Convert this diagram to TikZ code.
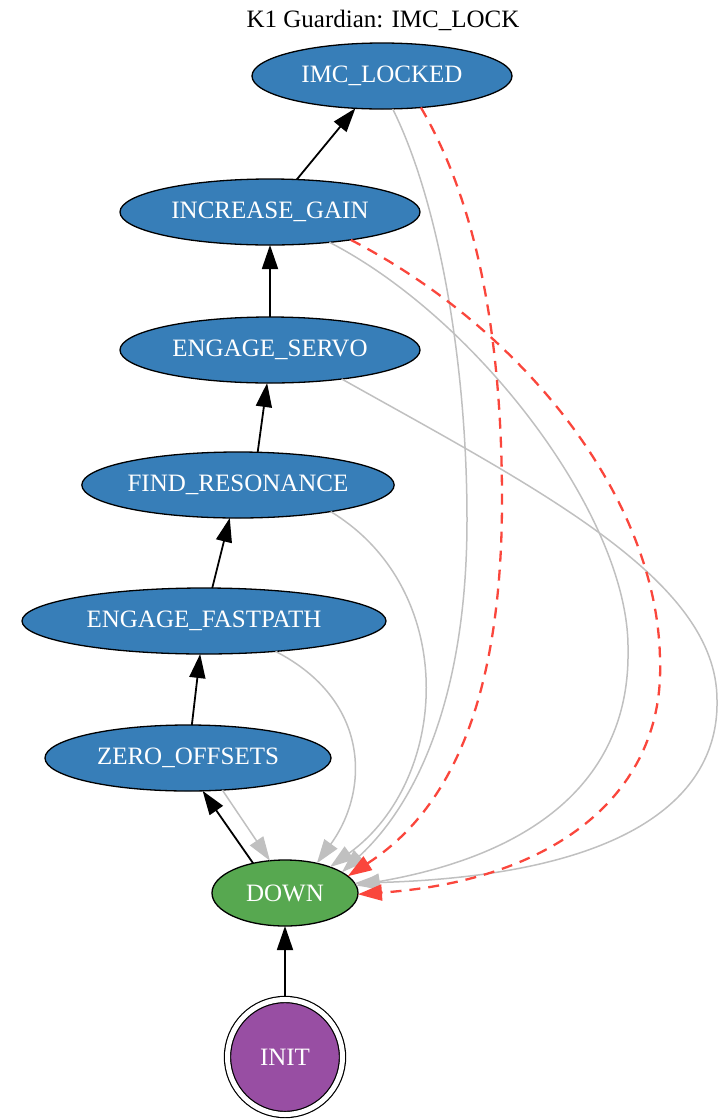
\documentclass[tikz,border=0pt]{standalone}
\usepackage{fontspec}
\setmainfont{Liberation Serif}
\usepackage{tikz}
\usetikzlibrary{arrows.meta,shapes}

\definecolor{stblue}{RGB}{55,126,184}
\definecolor{stgreen}{RGB}{87,168,80}
\definecolor{stpurple}{RGB}{152,78,163}
\definecolor{failred}{RGB}{250,70,60}
\definecolor{failgray}{RGB}{192,192,192}

\begin{document}
\begin{tikzpicture}[x=1pt, y=-1pt,
		every node/.style={font=\fontsize{25}{30}\selectfont, inner sep=0pt, outer sep=0pt},
		guard/.style={ellipse, draw, line width=1.3pt, fill=stblue, text=white, minimum height=66pt},
		trans/.style={-{Triangle[length=24pt,width=16pt]}, line width=1.8pt},
		reset/.style={-{Triangle[length=24pt,width=16pt]}, line width=1.5pt, color=failgray},
		fail/.style={-{Triangle[length=24pt,width=16pt]}, line width=2.3pt, color=failred, dash pattern=on 11pt off 8pt}]
		\useasboundingbox (0,0) rectangle (719,1120);
		\node (title) at (383,20) {K1 Guardian: IMC\_LOCK};
		% states
		\node[guard, minimum width=260pt] (lock) at (382,76) {IMC\_LOCKED};
		\node[guard, minimum width=300pt] (inc) at (270,212) {INCREASE\_GAIN};
		\node[guard, minimum width=300pt] (servo) at (270,350) {ENGAGE\_SERVO};
		\node[guard, minimum width=308pt] (find) at (238,485) {FIND\_RESONANCE};
		\node[guard, minimum width=364pt] (fast) at (204,621) {ENGAGE\_FASTPATH};
		\node[guard, minimum width=286pt] (zero) at (188,758) {ZERO\_OFFSETS};
		\node[guard, fill=stgreen, minimum width=146pt] (down) at (285,893) {DOWN};
		\node[circle, draw, line width=1.2pt, double=white, double distance=5pt, fill=stpurple, text=white, minimum size=115pt, outer sep=3.6pt] (init) at (285,1057) {INIT};
		% transitions
		\draw[trans] (init) -- (down);
		\draw[trans] (down.137) -- (zero.-66);
		\draw[trans] (zero) -- (fast);
		\draw[trans] (fast) -- (find);
		\draw[trans] (find.59) -- (servo.-95);
		\draw[trans] (servo) -- (inc);
		\draw[trans] (inc) -- (lock);
		% back to down
		\draw[reset] (zero.-43) -- (down.115);
		\draw[reset] (fast.-23) .. controls (370,700) and (370,790) .. (down.43);
		\draw[reset] (find.-16) .. controls (460,590) and (450,780) .. (down.30);
		\draw[reset] (servo.-22) .. controls (540,490) and (717,580) .. (717,700) .. controls (719,790) and (640,875) .. (down.8);
		\draw[reset] (inc.-27) .. controls (480,320) and (630,520) .. (628,650) .. controls (630,760) and (560,850) .. (down.6);
		\draw[reset] (lock.-72) .. controls (438,200) and (467,360) .. (467,520) .. controls (467,690) and (420,800) .. (down.20);
		\draw[fail] (inc.-19) .. controls (525,330) and (658,500) .. (660,660) .. controls (665,790) and (560,880) .. (down.-1);
		\draw[fail] (lock.-39) .. controls (475,200) and (502,330) .. (502,500) .. controls (502,700) and (450,810) .. (down.15);
	\end{tikzpicture}
\end{document}
